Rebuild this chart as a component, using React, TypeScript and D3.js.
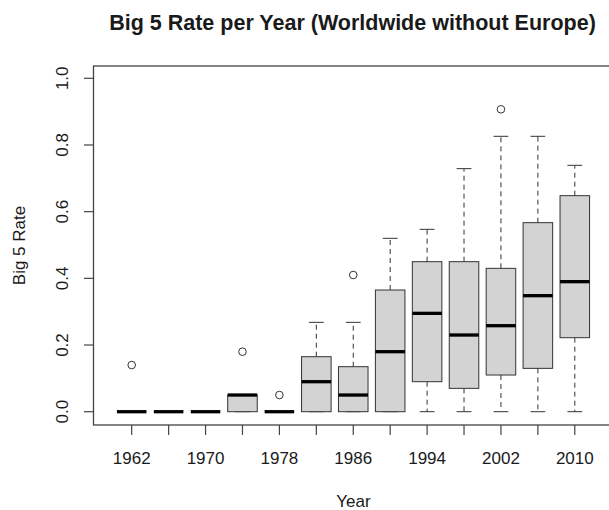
import React from "react";
import * as d3 from "d3";

const years = [1962, 1966, 1970, 1974, 1978, 1982, 1986, 1990, 1994, 1998, 2002, 2006, 2010];
const labeledYears = [1962, 1970, 1978, 1986, 1994, 2002, 2010];
const whiskerLow = [0, 0, 0, 0, 0, 0, 0, 0, 0, 0, 0, 0, 0];
const q1 = [0, 0, 0, 0, 0, 0, 0, 0, 0.09, 0.07, 0.11, 0.13, 0.222];
const median = [0, 0, 0, 0.05, 0, 0.09, 0.05, 0.18, 0.295, 0.23, 0.258, 0.348, 0.39];
const q3 = [0, 0, 0, 0.05, 0, 0.165, 0.135, 0.365, 0.45, 0.45, 0.43, 0.567, 0.648];
const whiskerHigh = [0, 0, 0, 0.05, 0, 0.268, 0.268, 0.52, 0.547, 0.729, 0.826, 0.826, 0.739];
const outliers: [number, number][] = [
  [1962, 0.14],
  [1974, 0.18],
  [1978, 0.05],
  [1986, 0.41],
  [2002, 0.907],
];
const yTicks = [0, 0.2, 0.4, 0.6, 0.8, 1.0];

const W = 609;
const H = 510;
const frame = { left: 93.5, top: 66, right: 640, bottom: 425 };
const font = "'Liberation Sans', Arial, sans-serif";
const textColor = "#1a1a1a";

export default function App() {
  const x = d3.scalePoint<number>().domain(years).range([131.7, 574.8]);
  const y = d3.scaleLinear().domain([0, 1]).range([411.7, 78.3]);
  const step = x.step();
  const boxW = step * 0.8;
  const stapleW = boxW * 0.5;

  return (
    <svg
      width={W}
      height={H}
      style={{ position: "absolute", left: 0, top: 0, background: "#fff" }}
      fontFamily={font}
    >
      <rect x={0} y={0} width={W} height={H} fill="#fff" />
      <text
        x={352.5}
        y={29.5}
        textAnchor="middle"
        fontSize={21.5}
        fontWeight="bold"
        fill={textColor}
      >
        Big 5 Rate per Year (Worldwide without Europe)
      </text>

      {/* boxes */}
      {years.map((yr, i) => {
        const cx = x(yr)!;
        return (
          <g key={yr}>
            <line
              x1={cx}
              x2={cx}
              y1={y(q3[i])}
              y2={y(whiskerHigh[i])}
              stroke="#333"
              strokeWidth={1}
              strokeDasharray="5,4"
            />
            <line
              x1={cx}
              x2={cx}
              y1={y(q1[i])}
              y2={y(whiskerLow[i])}
              stroke="#333"
              strokeWidth={1}
              strokeDasharray="5,4"
            />
            <line
              x1={cx - stapleW / 2}
              x2={cx + stapleW / 2}
              y1={y(whiskerHigh[i])}
              y2={y(whiskerHigh[i])}
              stroke="#333"
              strokeWidth={1}
            />
            <line
              x1={cx - stapleW / 2}
              x2={cx + stapleW / 2}
              y1={y(whiskerLow[i])}
              y2={y(whiskerLow[i])}
              stroke="#333"
              strokeWidth={1}
            />
            <rect
              x={cx - boxW / 2}
              y={y(q3[i])}
              width={boxW}
              height={y(q1[i]) - y(q3[i])}
              fill="#d3d3d3"
              stroke="#333"
              strokeWidth={1}
            />
            <line
              x1={cx - boxW / 2}
              x2={cx + boxW / 2}
              y1={y(median[i])}
              y2={y(median[i])}
              stroke="#000"
              strokeWidth={3.3}
            />
          </g>
        );
      })}

      {outliers.map(([yr, v], k) => (
        <circle
          key={k}
          cx={x(yr)!}
          cy={y(v)}
          r={3.8}
          fill="none"
          stroke="#333"
          strokeWidth={1}
        />
      ))}

      {/* frame */}
      <rect
        x={frame.left}
        y={frame.top}
        width={frame.right - frame.left}
        height={frame.bottom - frame.top}
        fill="none"
        stroke="#444"
        strokeWidth={1.3}
      />

      {/* y axis */}
      {yTicks.map((t) => (
        <g key={t}>
          <line x1={frame.left - 9.5} x2={frame.left} y1={y(t)} y2={y(t)} stroke="#444" strokeWidth={1.2} />
          <text
            transform={`translate(68,${y(t)}) rotate(-90)`}
            textAnchor="middle"
            fontSize={17}
            fill={textColor}
          >
            {t.toFixed(1)}
          </text>
        </g>
      ))}

      {/* x axis */}
      {years.map((yr) => (
        <line
          key={yr}
          x1={x(yr)!}
          x2={x(yr)!}
          y1={frame.bottom}
          y2={frame.bottom + 10}
          stroke="#444"
          strokeWidth={1.2}
        />
      ))}
      {labeledYears.map((yr) => (
        <text key={yr} x={x(yr)!} y={464} textAnchor="middle" fontSize={17} fill={textColor}>
          {yr}
        </text>
      ))}

      <text x={353.5} y={506.7} textAnchor="middle" fontSize={17} fill={textColor}>
        Year
      </text>
      <text
        transform={`translate(25,245.5) rotate(-90)`}
        textAnchor="middle"
        fontSize={17}
        fill={textColor}
      >
        Big 5 Rate
      </text>
    </svg>
  );
}
